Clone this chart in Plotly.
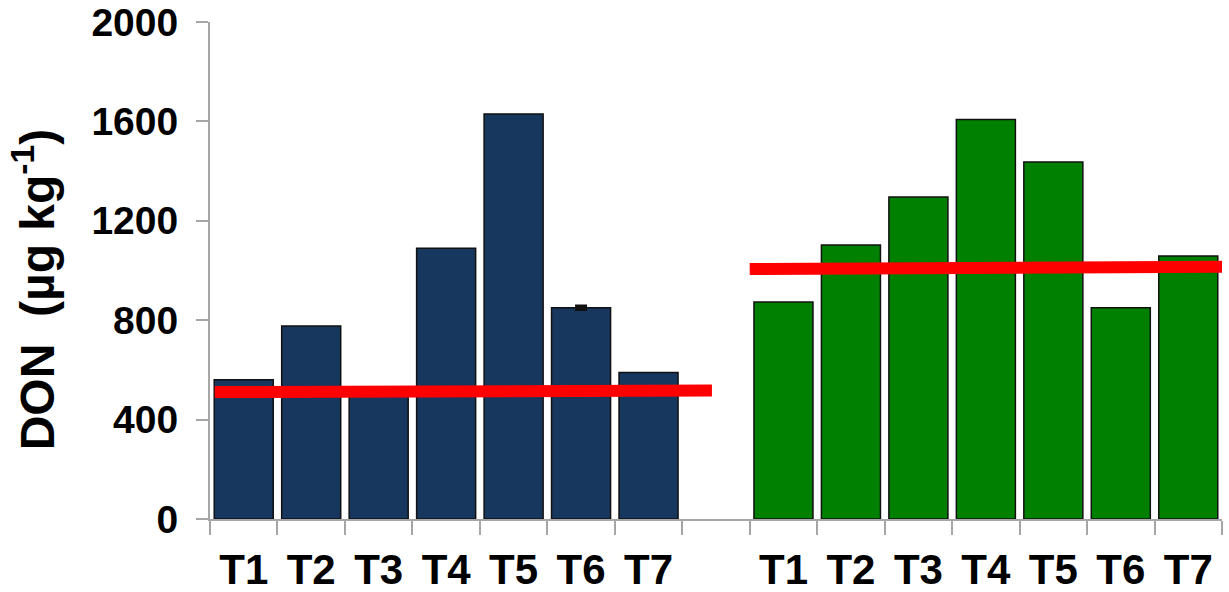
import plotly.graph_objects as go

# Treatments and DON concentrations (µg kg-1) for the two groups
treatments = ["T1", "T2", "T3", "T4", "T5", "T6", "T7"]
don_blue = [560, 777, 500, 1090, 1630, 850, 590]
err_blue = [None, None, None, None, None, 7, None]
don_green = [873, 1103, 1296, 1608, 1437, 850, 1058]

# Red reference lines: (start, end) positions and values per group
ref_blue_x = [-0.43, 6.94]
ref_blue_y = [511, 517]
ref_green_x = [7.5, 14.5]
ref_green_y = [1006, 1015]

y_ticks = [0, 400, 800, 1200, 1600, 2000]
y_title = "DON  (µg kg<sup>-1</sup>)"

blue_pos = list(range(0, 7))
green_pos = list(range(8, 15))

font_main = "Liberation Sans, Arial, sans-serif"

fig = go.Figure()
fig.add_trace(go.Bar(
    x=blue_pos, y=don_blue, width=0.875,
    marker=dict(color="#17375E", line=dict(color="#111111", width=1.5)),
    showlegend=False,
))
fig.add_trace(go.Bar(
    x=green_pos, y=don_green, width=0.875,
    marker=dict(color="#008000", line=dict(color="#111111", width=1.5)),
    showlegend=False,
))
# error bar on the blue bars that carry one
err_x = [p for p, e in zip(blue_pos, err_blue) if e is not None]
err_y = [v for v, e in zip(don_blue, err_blue) if e is not None]
err_v = [e for e in err_blue if e is not None]
fig.add_trace(go.Scatter(
    x=err_x, y=err_y, mode="markers",
    marker=dict(size=1, color="rgba(0,0,0,0)"),
    error_y=dict(type="data", array=err_v, color="#111111", thickness=3, width=6),
    showlegend=False, hoverinfo="skip",
))
for xs, ys in ((ref_blue_x, ref_blue_y), (ref_green_x, ref_green_y)):
    fig.add_trace(go.Scatter(
        x=xs, y=ys, mode="lines",
        line=dict(color="#FF0000", width=12),
        showlegend=False,
    ))

fig.update_layout(
    width=1229, height=592,
    margin=dict(l=210, r=7, t=22, b=73),
    paper_bgcolor="white", plot_bgcolor="white",
    font=dict(family=font_main, color="black"),
)
fig.update_xaxes(
    range=[-0.5, 14.5],
    automargin=False,
    tickvals=blue_pos + green_pos,
    ticktext=treatments + treatments,
    ticks="",
    tickfont=dict(family=font_main, size=42, color="black", weight="bold"),
    ticklabelstandoff=13,
    showline=True, linecolor="#a6a6a6", linewidth=2,
    showgrid=False, zeroline=False,
    minor=dict(tick0=-0.5, dtick=1, ticks="outside", ticklen=14,
               tickcolor="#a6a6a6", tickwidth=2, showgrid=False),
)
fig.update_yaxes(
    range=[0, 2000],
    automargin=False,
    tickvals=y_ticks,
    ticks="outside", ticklen=12, tickcolor="#a6a6a6", tickwidth=2,
    tickfont=dict(family=font_main, size=39, color="black", weight="bold"),
    ticklabelstandoff=10,
    showline=True, linecolor="#a6a6a6", linewidth=2,
    showgrid=False, zeroline=False,
)
# axis title placed as a rotated annotation left of the tick labels
fig.add_annotation(
    text=y_title, textangle=-90,
    xref="paper", yref="paper", x=-0.174, y=0.462,
    xanchor="center", yanchor="middle", showarrow=False,
    font=dict(family=font_main, size=48, color="black", weight="bold"),
)

fig.write_html("out.html")
